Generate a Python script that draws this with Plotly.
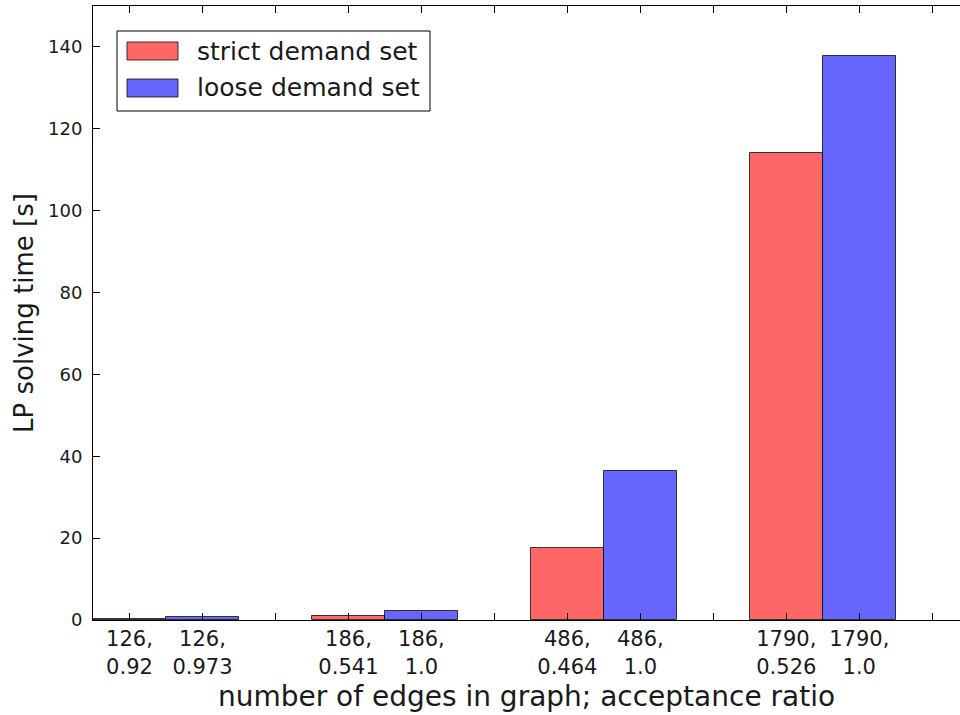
import plotly.graph_objects as go

# ---- data ----
series_names = ["strict demand set", "loose demand set"]
tick_labels = ["126,<br>0.92", "126,<br>0.973", "",
               "186,<br>0.541", "186,<br>1.0", "",
               "486,<br>0.464", "486,<br>1.0", "",
               "1790,<br>0.526", "1790,<br>1.0", ""]
strict_pos = [0, 3, 6, 9]
loose_pos = [1, 4, 7, 10]
strict_vals = [0.2, 1.0, 17.6, 114.1]
loose_vals = [0.7, 2.1, 36.5, 137.8]
y_ticks = [0, 20, 40, 60, 80, 100, 120, 140]

W, H = 960, 715
ML, MR, MT, MB = 93, 0, 6, 95
FONT = "DejaVu Sans"
TXT = "#1a1a1a"

red_fill = "rgba(255,0,0,0.6)"
blue_fill = "rgba(0,0,255,0.6)"
edge = "rgba(0,0,0,0.75)"

fig = go.Figure()
fig.add_trace(go.Bar(x=strict_pos, y=strict_vals, width=1.0, name=series_names[0],
                     marker=dict(color=red_fill, line=dict(color=edge, width=1))))
fig.add_trace(go.Bar(x=loose_pos, y=loose_vals, width=1.0, name=series_names[1],
                     marker=dict(color=blue_fill, line=dict(color=edge, width=1))))

# manual matplotlib-like legend (paper coordinates from pixel positions)
pw, ph = W - ML - MR, H - MT - MB
def px(x): return (x - ML) / pw
def py(y): return (H - MB - y) / ph

shapes = [
    dict(type="rect", xref="paper", yref="paper", x0=px(117), x1=px(430), y0=py(111), y1=py(31),
         line=dict(color="black", width=1), fillcolor="white", layer="above"),
    dict(type="rect", xref="paper", yref="paper", x0=px(127), x1=px(178), y0=py(60), y1=py(42),
         line=dict(color=edge, width=1), fillcolor=red_fill, layer="above"),
    dict(type="rect", xref="paper", yref="paper", x0=px(127), x1=px(178), y0=py(97), y1=py(79),
         line=dict(color=edge, width=1), fillcolor=blue_fill, layer="above"),
]
annotations = [
    dict(xref="paper", yref="paper", x=px(195), y=py(51), text=series_names[0], showarrow=False,
         xanchor="left", yanchor="middle", font=dict(family=FONT, size=25, color=TXT)),
    dict(xref="paper", yref="paper", x=px(195), y=py(88), text=series_names[1], showarrow=False,
         xanchor="left", yanchor="middle", font=dict(family=FONT, size=25, color=TXT)),
]

fig.update_layout(
    width=W, height=H,
    margin=dict(l=ML, r=MR, t=MT, b=MB, pad=0),
    paper_bgcolor="white", plot_bgcolor="white",
    showlegend=False, barmode="overlay", bargap=0,
    font=dict(family=FONT, size=18, color=TXT),
    shapes=shapes, annotations=annotations,
    xaxis=dict(range=[-0.5, 11.38], tickmode="array", tickvals=list(range(len(tick_labels))),
               ticktext=tick_labels, ticks="inside", ticklen=7, tickwidth=1, tickcolor="black",
               showline=True, linecolor="black", linewidth=1, mirror="ticks",
               showgrid=False, zeroline=False, tickangle=0, automargin=False,
               ticklabelstandoff=0,
               tickfont=dict(family=FONT, size=21, color=TXT),
               title=dict(text="number of edges in graph; acceptance ratio",
                          font=dict(family=FONT, size=28, color=TXT), standoff=8)),
    yaxis=dict(range=[0, 150], tickmode="array", tickvals=y_ticks,
               ticks="inside", ticklen=7, tickwidth=1, tickcolor="black",
               showline=True, linecolor="black", linewidth=1, mirror=False,
               showgrid=False, zeroline=False, automargin=False,
               ticklabelstandoff=6,
               tickfont=dict(family=FONT, size=18, color=TXT),
               title=dict(text="LP solving time [s]",
                          font=dict(family=FONT, size=26, color=TXT), standoff=6)),
)

fig.write_html("out.html", config={"displayModeBar": False},
               post_script="document.body.style.margin='0';document.body.style.padding='0';")
